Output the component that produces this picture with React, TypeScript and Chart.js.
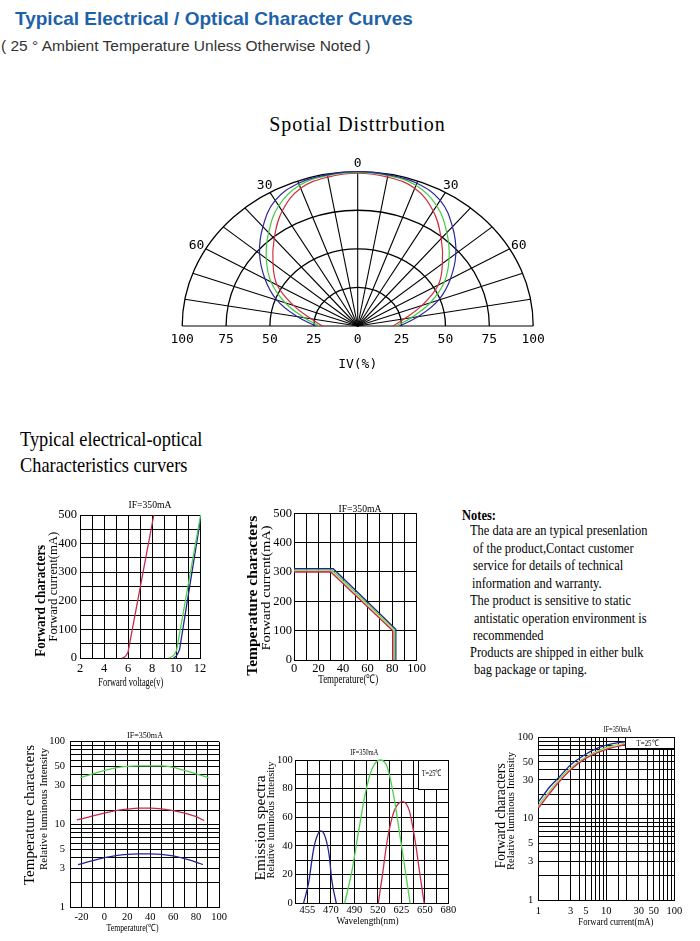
import React, { useEffect, useRef } from "react";
import { Chart, registerables } from "chart.js";

Chart.register(...registerables);

// ======================= DATA =======================
// Spatial distribution: relative intensity (%) vs angle (deg), symmetric
const polarAngles = [0, 10, 20, 30, 40, 50, 60, 70, 80, 90];
const polarBlue = [100, 99.5, 98.5, 94, 84, 73, 61, 49, 35, 24];
const polarGreen = [99.5, 99, 97, 90, 79, 68, 57, 44, 31, 22];
const polarRed = [99, 98, 95, 86, 74, 63, 53, 39, 27, 20];
const polarRings = [25, 50, 75, 100];
const polarSpokes = [-90, -80, -70, -60, -50, -40, -30, -20, -10, 0, 10, 20, 30, 40, 50, 60, 70, 80, 90];
const polarAngleLabels = [-60, -30, 0, 30, 60];
const polarRadiusLabels = [-100, -75, -50, -25, 0, 25, 50, 75, 100];

// Forward characters: forward current (mA) vs forward voltage (V)
const fwdRedV = [5.5, 5.7, 5.85, 6.0, 8.15];
const fwdRedI = [0, 3, 9, 20, 500];
const fwdGreenV = [9.4, 9.7, 9.9, 10.05, 12.05];
const fwdGreenI = [0, 5, 14, 28, 500];
const fwdBlueV = [9.8, 10.0, 10.15, 10.3, 12.05];
const fwdBlueI = [0, 6, 15, 30, 488];
const fwdVTicks = [2, 4, 6, 8, 10, 12];
const fwdITicks = [0, 100, 200, 300, 400, 500];

// Temperature characters: forward current (mA) vs temperature (°C)
const tcBlueT = [0, 32, 83, 83];
const tcBlueI = [311, 311, 105, 0];
const tcGreenT = [0, 31, 82, 82];
const tcGreenI = [306, 306, 103, 0];
const tcYellowT = [0, 30.5, 81.2, 81.2];
const tcYellowI = [303, 303, 101, 0];
const tcRedT = [0, 30, 80.5, 80.5];
const tcRedI = [300, 300, 100, 0];
const tcTTicks = [0, 20, 40, 60, 80, 100];
const tcITicks = [0, 100, 200, 300, 400, 500];

// Temperature characters: relative luminous intensity vs temperature (°C)
const tlGreenT = [-21, -10, 0, 10, 20, 30, 40, 50, 57, 70, 80, 91];
const tlGreenL = [37, 41, 45, 48.5, 50.5, 51, 51, 51, 50, 45, 41, 37];
const tlRedT = [-24, -10, 0, 10, 20, 30, 40, 50, 60, 70, 80, 87];
const tlRedL = [11.4, 12.8, 13.8, 14.8, 15.4, 15.8, 15.8, 15.5, 14.8, 13.8, 12.5, 11.2];
const tlBlueT = [-23, -10, 0, 10, 20, 30, 40, 50, 60, 70, 80, 86];
const tlBlueL = [3.3, 3.7, 4.0, 4.25, 4.4, 4.45, 4.45, 4.4, 4.2, 3.9, 3.55, 3.3];
const tlTTicks = [-20, 0, 20, 40, 60, 80, 100];
const logTicks = [1, 3, 5, 10, 30, 50, 100];

// Emission spectra: relative intensity vs wavelength (nm), axis is non-linear
const specTickWl = [455, 470, 490, 520, 625, 650, 680];
const specTickPos = [1, 3, 5, 7, 9, 11, 13];
const specBlueWl = [452.5, 455.7, 458.8, 461, 463.6, 466.3, 469, 470.7, 474.6];
const specBlueI = [0, 14, 37, 46.5, 50.5, 46.5, 32.6, 16.3, 0];
const specGreenWl = [481.7, 488, 495.6, 504.1, 512.7, 532, 562, 592, 622, 629.6, 634.3];
const specGreenI = [0, 23, 51, 77, 94, 100, 95, 74, 44, 21, 0];
const specRedWl = [521.6, 539.4, 562, 592, 626.1, 633.3, 639.6, 644.6, 649.3];
const specRedI = [0, 18.6, 44, 64, 71, 65, 44, 21, 0];
const specITicks = [0, 20, 40, 60, 80, 100];

// Forward characters: relative luminous intensity vs forward current (mA)
const flBlueI = [1, 1.5, 2, 3, 5, 7, 10, 15, 19];
const flBlueL = [16, 25, 32, 46, 62, 72, 80, 86, 88];
const flGreenI = [1, 2, 3, 5, 10, 19];
const flGreenL = [14.5, 30, 42, 57, 75, 84];
const flYellowI = [1, 2, 3, 5, 10, 19];
const flYellowL = [14, 29, 41, 56, 73, 83];
const flRedI = [1, 2, 3, 5, 10, 19];
const flRedL = [13.5, 28, 40, 55, 71, 81];

// ======================= STYLE =======================
const BLUE = "#23238f";
const GREEN = "#4fd04f";
const RED = "#c42a4c";
const YELLOW = "#e2da80";
const SERIF = '"Liberation Serif", "Times New Roman", serif';
const MONO = '"DejaVu Sans Mono", "Liberation Mono", monospace';

const zip = (xs: number[], ys: number[]) => xs.map((x, i) => ({ x, y: ys[i] }));
const rad = (d: number) => (d * Math.PI) / 180;
const toXY = (deg: number, r: number) => ({ x: r * Math.sin(rad(deg)), y: r * Math.cos(rad(deg)) });

function polarPoints(vals: number[]) {
  const pts: { x: number; y: number }[] = [];
  for (let i = polarAngles.length - 1; i >= 0; i--) pts.push(toXY(-polarAngles[i], vals[i]));
  for (let i = 1; i < polarAngles.length; i++) pts.push(toXY(polarAngles[i], vals[i]));
  return pts;
}

function wlToPos(nm: number) {
  const w = specTickWl, p = specTickPos;
  let i = 0;
  if (nm <= w[0]) i = 0;
  else if (nm >= w[w.length - 1]) i = w.length - 2;
  else while (i < w.length - 2 && nm > w[i + 1]) i++;
  return p[i] + ((nm - w[i]) * (p[i + 1] - p[i])) / (w[i + 1] - w[i]);
}

type TextItem = { t: string; x: number; y: number; size: number; w?: number; bold?: boolean; rot?: boolean; family?: string };
type BoxItem = { x0: number; x1: number; y0: number; y1: number };

function drawText(ctx: CanvasRenderingContext2D, t: TextItem, ox: number, oy: number) {
  ctx.save();
  ctx.translate(t.x - ox, t.y - oy);
  if (t.rot) ctx.rotate(-Math.PI / 2);
  ctx.font = `${t.bold ? "bold " : ""}${t.size}px ${t.family || SERIF}`;
  ctx.textAlign = "center";
  ctx.textBaseline = "middle";
  ctx.fillStyle = "#000";
  if (t.w) {
    const m = ctx.measureText(t.t).width;
    if (m > 0) ctx.scale(t.w / m, 1);
  }
  ctx.fillText(t.t, 0, 0);
  ctx.restore();
}

function makeOverlay(texts: TextItem[], boxes: BoxItem[], ox: number, oy: number) {
  return {
    id: "overlay",
    afterDatasetsDraw(chart: any) {
      const { ctx, scales } = chart;
      for (const b of boxes) {
        const x0 = Math.round(scales.x.getPixelForValue(b.x0)) + 0.5;
        const x1 = Math.round(scales.x.getPixelForValue(b.x1)) + 0.5;
        const y0 = Math.round(scales.y.getPixelForValue(b.y0)) + 0.5;
        const y1 = Math.round(scales.y.getPixelForValue(b.y1)) + 0.5;
        ctx.save();
        ctx.fillStyle = "#fff";
        ctx.fillRect(x0, y1, x1 - x0, y0 - y1);
        ctx.strokeStyle = "#000";
        ctx.lineWidth = 1;
        ctx.strokeRect(x0, y1, x1 - x0, y0 - y1);
        ctx.restore();
      }
    },
    afterDraw(chart: any) {
      for (const t of texts) drawText(chart.ctx, t, ox, oy);
    },
  };
}

const near = (list: number[], v: number) => list.some((l) => Math.abs(l - v) < 1e-6);

const Y_ROOM = 36;
const X_ROOM = 22;

function axis(kind: "x" | "y", o: { type?: string; min: number; max: number; step?: number; labels?: number[]; size: number; pad: number; fmt?: (v: number) => string }) {
  return {
    type: o.type || "linear",
    min: o.min,
    max: o.max,
    afterFit: (s: any) => {
      if (kind === "x") s.height = X_ROOM;
      else s.width = Y_ROOM;
    },
    grid: { color: "#000", lineWidth: 1, drawTicks: false },
    border: { color: "#000", width: 1 },
    ticks: {
      stepSize: o.step,
      autoSkip: false,
      maxRotation: 0,
      minRotation: 0,
      padding: o.pad,
      color: "#000",
      font: { family: SERIF, size: o.size },
      callback: (v: any) => {
        const n = Number(v);
        if (o.fmt) return o.fmt(n);
        return near(o.labels || [], n) ? String(n) : "";
      },
    },
  };
}

function line(data: { x: number; y: number }[], color: string, extra: any = {}) {
  return { data, borderColor: color, backgroundColor: color, borderWidth: 1.3, pointRadius: 0, showLine: true, fill: false, tension: 0, clip: 4, ...extra };
}

type Spec = {
  left: number; top: number; width: number; height: number;
  margin: { left: number; top: number; right: number; bottom: number };
  datasets: any[]; scales: any; texts: TextItem[]; boxes: BoxItem[];
};

function buildConfig(s: Spec): any {
  return {
    type: "scatter",
    data: { datasets: s.datasets },
    options: {
      responsive: false,
      animation: false,
      devicePixelRatio: 1,
      events: [],
      layout: {
        padding: {
          left: s.margin.left - Y_ROOM,
          top: s.margin.top,
          right: s.margin.right,
          bottom: s.margin.bottom - X_ROOM,
        },
      },
      plugins: { legend: { display: false }, tooltip: { enabled: false }, title: { display: false } },
      scales: s.scales,
    },
    plugins: [makeOverlay(s.texts, s.boxes, s.left, s.top)],
  };
}

const SMALL = 10.5;
const MONO_SMOOTH = { cubicInterpolationMode: "monotone" };

const specs: Spec[] = [
  // A: Forward characters (I vs V)
  {
    left: 20, top: 495, width: 200, height: 200,
    margin: { left: 60, top: 20, right: 20, bottom: 37 },
    datasets: [
      line(zip(fwdRedV, fwdRedI), RED),
      line(zip(fwdGreenV, fwdGreenI), GREEN),
      line(zip(fwdBlueV, fwdBlueI), BLUE),
    ],
    scales: {
      x: axis("x", { min: 2, max: 12, step: 1, labels: fwdVTicks, size: 12.5, pad: 3 }),
      y: axis("y", { min: 0, max: 500, step: 50, labels: fwdITicks, size: 12.5, pad: 3 }),
    },
    texts: [
      { t: "IF=350mA", x: 150, y: 505, size: 10, w: 43 },
      { t: "Forward characters", x: 41, y: 600.8, size: 15, w: 112, bold: true, rot: true },
      { t: "Forward current(mA)", x: 53.5, y: 586.7, size: 12.5, w: 110, rot: true },
      { t: "Forward voltage(v)", x: 130.8, y: 683.3, size: 12, w: 65 },
    ],
    boxes: [],
  },
  // B: Temperature characters (I vs T)
  {
    left: 240, top: 495, width: 200, height: 200,
    margin: { left: 54, top: 18.3, right: 23.3, bottom: 35 },
    datasets: [
      line(zip(tcRedT, tcRedI), RED),
      line(zip(tcYellowT, tcYellowI), YELLOW),
      line(zip(tcGreenT, tcGreenI), GREEN),
      line(zip(tcBlueT, tcBlueI), BLUE),
    ],
    scales: {
      x: axis("x", { min: 0, max: 100, step: 10, labels: tcTTicks, size: 12.5, pad: 1 }),
      y: axis("y", { min: 0, max: 500, step: 100, labels: tcITicks, size: 12.5, pad: 2 }),
    },
    texts: [
      { t: "IF=350mA", x: 360, y: 509, size: 10, w: 43 },
      { t: "Temperature characters", x: 252.7, y: 595.8, size: 15, w: 160, bold: true, rot: true },
      { t: "Forward current(mA)", x: 266.7, y: 588, size: 12.5, w: 125, rot: true },
      { t: "Temperature(\u2103)", x: 348.3, y: 680, size: 12, w: 60 },
    ],
    boxes: [],
  },
  // C: Temperature characters (relative luminous intensity vs T)
  {
    left: 10, top: 720, width: 225, height: 221,
    margin: { left: 60, top: 21.7, right: 16, bottom: 33.3 },
    datasets: [
      line(zip(tlGreenT, tlGreenL), GREEN, MONO_SMOOTH),
      line(zip(tlRedT, tlRedL), RED, MONO_SMOOTH),
      line(zip(tlBlueT, tlBlueL), BLUE, MONO_SMOOTH),
    ],
    scales: {
      x: axis("x", { min: -30, max: 100, step: 10, labels: tlTTicks, size: SMALL, pad: 3 }),
      y: axis("y", { type: "logarithmic", min: 1, max: 100, labels: logTicks, size: SMALL, pad: 5 }),
    },
    texts: [
      { t: "IF=350mA", x: 145, y: 735.7, size: 9, w: 36 },
      { t: "Temperature characters", x: 30, y: 815, size: 14, w: 140, rot: true },
      { t: "Relative luminous Intensity", x: 44.3, y: 809, size: 10.5, w: 122, rot: true },
      { t: "Temperature(\u2103)", x: 132.5, y: 928.3, size: 10, w: 52 },
    ],
    boxes: [],
  },
  // D: Emission spectra
  {
    left: 250, top: 740, width: 215, height: 201,
    margin: { left: 45.7, top: 20, right: 16.7, bottom: 37.7 },
    datasets: [
      line(specBlueWl.map((w, i) => ({ x: wlToPos(w), y: specBlueI[i] })), BLUE, MONO_SMOOTH),
      line(specGreenWl.map((w, i) => ({ x: wlToPos(w), y: specGreenI[i] })), GREEN, MONO_SMOOTH),
      line(specRedWl.map((w, i) => ({ x: wlToPos(w), y: specRedI[i] })), RED, MONO_SMOOTH),
    ],
    scales: {
      x: axis("x", {
        min: 0, max: 13, step: 1, size: SMALL, pad: 1,
        fmt: (v) => {
          const i = specTickPos.findIndex((p) => Math.abs(p - v) < 1e-6);
          return i >= 0 ? String(specTickWl[i]) : "";
        },
      }),
      y: axis("y", { min: 0, max: 100, step: 10, labels: specITicks, size: SMALL, pad: 3 }),
    },
    texts: [
      { t: "IF=350mA", x: 364.2, y: 752.7, size: 8.5, w: 28 },
      { t: "Emission spectra", x: 261, y: 828, size: 15, w: 105, rot: true },
      { t: "Relative luminous Intensity", x: 271.7, y: 820, size: 10.5, w: 117, rot: true },
      { t: "Wavelength(nm)", x: 367.5, y: 921.7, size: 10.5, w: 62 },
      { t: "T=25\u2103", x: 431.7, y: 773.3, size: 9, w: 20 },
    ],
    boxes: [{ x0: 10.4, x1: 13, y0: 80, y1: 100 }],
  },
  // E: Forward characters (relative luminous intensity vs I)
  {
    left: 490, top: 720, width: 205, height: 221,
    margin: { left: 48.3, top: 17.3, right: 20.7, bottom: 41 },
    datasets: [
      line(zip(flRedI, flRedL), RED, MONO_SMOOTH),
      line(zip(flYellowI, flYellowL), YELLOW, MONO_SMOOTH),
      line(zip(flGreenI, flGreenL), GREEN, MONO_SMOOTH),
      line(zip(flBlueI, flBlueL), BLUE, MONO_SMOOTH),
    ],
    scales: {
      x: axis("x", { type: "logarithmic", min: 1, max: 100, labels: logTicks, size: SMALL, pad: 5 }),
      y: axis("y", { type: "logarithmic", min: 1, max: 100, labels: logTicks, size: SMALL, pad: 5 }),
    },
    texts: [
      { t: "IF=350mA", x: 617.5, y: 729.3, size: 8.5, w: 28 },
      { t: "Forward characters", x: 501.7, y: 815.8, size: 14, w: 105, rot: true },
      { t: "Relative luminous Intensity", x: 511.7, y: 811, size: 10.5, w: 118, rot: true },
      { t: "Forward current(mA)", x: 615.8, y: 922.7, size: 10, w: 75 },
      { t: "T=25\u2103", x: 647.5, y: 743.3, size: 9, w: 22 },
    ],
    boxes: [{ x0: 19, x1: 100, y0: 73, y1: 100 }],
  },
];

// Polar chart geometry (canvas box)
const POLAR = { left: 130, top: 140, width: 460, height: 240 };

const polarPlugin = {
  id: "polarGrid",
  beforeDatasetsDraw(chart: any) {
    const { ctx, scales } = chart;
    const x = scales.x, y = scales.y;
    const cx = x.getPixelForValue(0), cy = y.getPixelForValue(0);
    ctx.save();
    ctx.strokeStyle = "#000";
    ctx.lineWidth = 1.3;
    for (const r of polarRings) {
      const rx = x.getPixelForValue(r) - cx;
      const ry = cy - y.getPixelForValue(r);
      ctx.beginPath();
      ctx.ellipse(cx, cy, rx, ry, 0, Math.PI, 2 * Math.PI);
      ctx.stroke();
    }
    ctx.lineWidth = 1.1;
    for (const a of polarSpokes) {
      const p = toXY(a, 100);
      ctx.beginPath();
      ctx.moveTo(cx, cy);
      ctx.lineTo(x.getPixelForValue(p.x), y.getPixelForValue(p.y));
      ctx.stroke();
    }
    ctx.restore();
  },
  afterDraw(chart: any) {
    const { ctx, scales } = chart;
    const x = scales.x, y = scales.y;
    const cy = y.getPixelForValue(0);
    ctx.save();
    ctx.fillStyle = "#000";
    ctx.font = `13px ${MONO}`;
    ctx.textAlign = "center";
    ctx.textBaseline = "middle";
    for (const a of polarAngleLabels) {
      const p = toXY(a, 106);
      ctx.fillText(String(Math.abs(a)), x.getPixelForValue(p.x), y.getPixelForValue(p.y) + 1.5);
    }
    for (const v of polarRadiusLabels) {
      ctx.fillText(String(Math.abs(v)), x.getPixelForValue(v), cy + 14);
    }
    ctx.fillText("IV(%)", x.getPixelForValue(0), cy + 39);
    ctx.restore();
  },
};

function polarConfig(): any {
  return {
    type: "scatter",
    data: {
      datasets: [
        line(polarPoints(polarBlue), "#2a2a9a", { tension: 0.4, clip: 6, borderWidth: 1.2 }),
        line(polarPoints(polarGreen), "#44c844", { tension: 0.4, clip: 6, borderWidth: 1.2 }),
        line(polarPoints(polarRed), "#cc3040", { tension: 0.4, clip: 6, borderWidth: 1.2 }),
      ],
    },
    options: {
      responsive: false,
      animation: false,
      devicePixelRatio: 1,
      events: [],
      layout: { padding: { left: 52.2, right: 56.8, top: 31.7, bottom: 54 } },
      plugins: { legend: { display: false }, tooltip: { enabled: false } },
      scales: {
        x: { type: "linear", min: -100, max: 100, display: false },
        y: { type: "linear", min: 0, max: 100, display: false },
      },
    },
    plugins: [polarPlugin],
  };
}

function ChartCanvas(props: { left: number; top: number; width: number; height: number; build: () => any }) {
  const ref = useRef<HTMLCanvasElement>(null);
  useEffect(() => {
    if (!ref.current) return;
    const chart = new Chart(ref.current, props.build());
    return () => chart.destroy();
  }, []);
  return (
    <canvas
      ref={ref}
      width={props.width}
      height={props.height}
      style={{ position: "absolute", left: props.left, top: props.top, width: props.width, height: props.height }}
    />
  );
}

const noteLines: [string, number, number, boolean][] = [
  ["Notes:", 461.7, 516.7, true],
  ["The data are an typical presenlation", 470, 531.7, false],
  ["of the product,Contact customer", 473.3, 549.3, false],
  ["service for details of technical", 473.3, 567, false],
  ["information and warranty.", 472.3, 584.3, false],
  ["The product is sensitive to static", 470, 602, false],
  ["antistatic operation environment is", 474.3, 619.3, false],
  ["recommended", 473.3, 636.7, false],
  ["Products are shipped in either bulk", 470, 654, false],
  ["bag package or taping.", 474, 671, false],
];

export default function App() {
  const abs: React.CSSProperties = { position: "absolute", whiteSpace: "nowrap", lineHeight: 1, margin: 0 };
  return (
    <div style={{ position: "absolute", left: 0, top: 0, width: 700, height: 941, background: "#fff", overflow: "hidden" }}>
      <div style={{ ...abs, left: 15, top: 9.2, fontFamily: '"Liberation Sans", Arial, sans-serif', fontWeight: "bold", fontSize: 19, color: "#1d62a8" }}>
        Typical Electrical / Optical Character Curves
      </div>
      <div style={{ ...abs, left: 1, top: 38, fontFamily: '"Liberation Sans", Arial, sans-serif', fontSize: 15.5, color: "#333" }}>
        ( 25 ° Ambient Temperature Unless Otherwise Noted )
      </div>
      <div style={{ ...abs, left: 357.5, top: 114, transform: "translateX(-50%)", fontFamily: SERIF, fontSize: 20, letterSpacing: "0.9px", color: "#000" }}>
        Spotial Disttrbution
      </div>
      <div style={{ ...abs, left: 20, top: 429.1, fontFamily: SERIF, fontSize: 21, color: "#000", transform: "scaleX(0.873)", transformOrigin: "0 0" }}>
        Typical electrical-optical
      </div>
      <div style={{ ...abs, left: 20, top: 455, fontFamily: SERIF, fontSize: 21, color: "#000", transform: "scaleX(0.873)", transformOrigin: "0 0" }}>
        Characteristics curvers
      </div>
      {noteLines.map(([t, x, y, b], i) => (
        <div
          key={i}
          style={{ ...abs, left: x, top: y - 7.7, fontFamily: SERIF, fontSize: 14, fontWeight: b ? "bold" : "normal", color: "#000", transform: "scaleX(0.89)", transformOrigin: "0 0" }}
        >
          {t}
        </div>
      ))}
      <ChartCanvas {...POLAR} build={polarConfig} />
      {specs.map((s, i) => (
        <ChartCanvas key={i} left={s.left} top={s.top} width={s.width} height={s.height} build={() => buildConfig(s)} />
      ))}
    </div>
  );
}
